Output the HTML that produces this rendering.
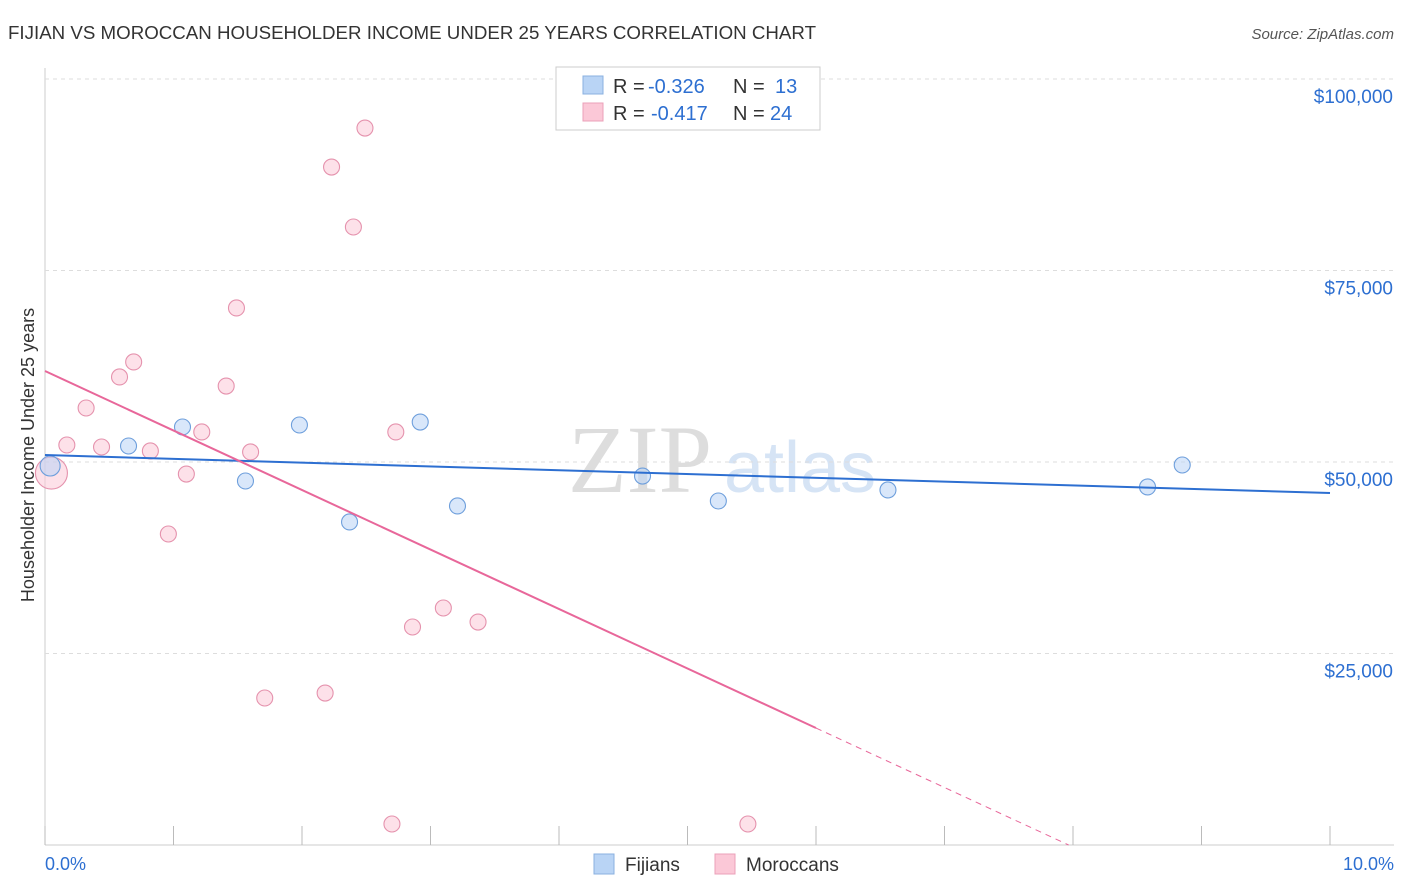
<!DOCTYPE html>
<html><head><meta charset="utf-8"><style>
body{margin:0;background:#fff;font-family:"Liberation Sans",sans-serif;}
#wrap{position:relative;width:1406px;height:892px;overflow:hidden;}
</style></head><body>
<div id="wrap">
<svg id="svg" width="1406" height="892" xmlns="http://www.w3.org/2000/svg">
<text x="8" y="39" font-size="18" fill="#333" textLength="808" lengthAdjust="spacingAndGlyphs">FIJIAN VS MOROCCAN HOUSEHOLDER INCOME UNDER 25 YEARS CORRELATION CHART</text>
<text x="1394" y="39" font-size="15" fill="#555" font-style="italic" text-anchor="end">Source: ZipAtlas.com</text>
<text x="640" y="492" font-size="96" fill="#ddd" font-family="Liberation Serif" text-anchor="middle">ZIP</text>
<text x="800" y="492" font-size="72" fill="#d6e4f5" text-anchor="middle">atlas</text>
<text transform="translate(34,455) rotate(-90)" font-size="18" fill="#333" text-anchor="middle">Householder Income Under 25 years</text>
<g id="grid"></g><g id="marks"></g>
<g>
<rect x="556" y="67" width="264" height="63" fill="#fff" stroke="#ccc"/>
<rect x="583" y="76" width="20" height="18" fill="#b9d4f5" stroke="#8ab0e0"/>
<rect x="583" y="103" width="20" height="18" fill="#fbc8d7" stroke="#eba0b8"/>
<text x="613" y="93" font-size="20" fill="#333">R =</text>
<text x="648" y="93" font-size="20" fill="#2d6fd1">-0.326</text>
<text x="733" y="93" font-size="20" fill="#333">N =</text>
<text x="775" y="93" font-size="20" fill="#2d6fd1">13</text>
<text x="613" y="120" font-size="20" fill="#333">R =</text>
<text x="651" y="120" font-size="20" fill="#2d6fd1">-0.417</text>
<text x="733" y="120" font-size="20" fill="#333">N =</text>
<text x="770" y="120" font-size="20" fill="#2d6fd1">24</text>
</g>
<g>
<rect x="594" y="854" width="20" height="20" fill="#b9d4f5" stroke="#8ab0e0"/>
<text x="625" y="871" font-size="19" fill="#333">Fijians</text>
<rect x="715" y="854" width="20" height="20" fill="#fbc8d7" stroke="#eba0b8"/>
<text x="746" y="871" font-size="19" fill="#333">Moroccans</text>
</g>
<text x="45" y="870" font-size="18" fill="#2d6fd1">0.0%</text>
<text x="1394" y="870" font-size="18" fill="#2d6fd1" text-anchor="end">10.0%</text>
</svg></div>
<script>
const yTicks=[25000,50000,75000,100000];
const yTickLabels=["$25,000","$50,000","$75,000","$100,000"];
const xTicks=[0,1,2,3,4,5,6,7,8,9,10];
const fijX=[0.04,0.65,1.07,1.56,1.98,2.37,2.92,3.21,4.65,5.24,6.56,8.58,8.85];
const fijY=[49480,52090,54570,47520,54830,42170,55220,44260,48170,44910,46350,46740,49610];
const morX=[0.05,0.17,0.32,0.44,0.58,0.69,0.82,0.96,1.10,1.22,1.41,1.49,1.60,1.71,2.18,2.23,2.40,2.49,2.70,2.73,2.86,3.10,3.37,5.47];
const morY=[48560,52220,57050,51960,61100,63060,51440,40600,48430,53920,59920,70110,51310,19190,19840,88510,80680,93600,2740,53920,28460,30940,29110,2740];
const fijTrend=[50910,45950];
const morTrend=[61880,-7768];
const X=v=>45+v*128.5, Y=v=>845-v/130.55;
const NS="http://www.w3.org/2000/svg";
function mk(t,a,p){const e=document.createElementNS(NS,t);for(const k in a)e.setAttribute(k,a[k]);p.appendChild(e);return e;}
const g=document.getElementById('grid'),m=document.getElementById('marks');
let l=mk('line',{x1:45,x2:1394,y1:845,y2:845,stroke:'#ccc'},g);


l=mk('line',{x1:45,x2:45,y1:68,y2:845,stroke:'#ccc'},g);


yTicks.forEach((v,i)=>{
 const ln=mk('line',{x1:45,x2:1394,y1:Y(v),y2:Y(v),stroke:'#ddd','stroke-dasharray':'4,4'},g);
 
 
 const t=mk('text',{x:1393,y:Y(v)+24,'font-size':19,fill:'#2d6fd1','text-anchor':'end'},g);
 t.textContent=yTickLabels[i];
 
 
});
xTicks.forEach(v=>{
 const tk=mk('line',{x1:X(v),x2:X(v),y1:826,y2:845,stroke:'#bbb'},g);
 
 
});
function dot(x,y,c,s,r,name){const e=mk('circle',{cx:X(x),cy:Y(y),r:r,fill:c,'fill-opacity':0.55,stroke:s,'stroke-width':1.1},m);
 
 }
morX.forEach((x,i)=>dot(x,morY[i],'#fbc8d7','#e592ad',i==0?16:8,'moroccan-point'));
fijX.forEach((x,i)=>dot(x,fijY[i],'#b9d4f5','#6e9fdc',i==0?10:8,'fijian-point'));
let t1=mk('line',{x1:X(0),y1:Y(fijTrend[0]),x2:X(10),y2:Y(fijTrend[1]),stroke:'#2d6fd1','stroke-width':2},m);


const mY=x=>morTrend[0]+morTrend[1]*x, zx=-morTrend[0]/morTrend[1];
let t2=mk('line',{x1:X(0),y1:Y(mY(0)),x2:X(6),y2:Y(mY(6)),stroke:'#e8679a','stroke-width':2},m);


let t3=mk('line',{x1:X(6),y1:Y(mY(6)),x2:X(zx),y2:Y(0),stroke:'#e8679a','stroke-width':1,'stroke-dasharray':'6,5'},m);


</script>
</body></html>
